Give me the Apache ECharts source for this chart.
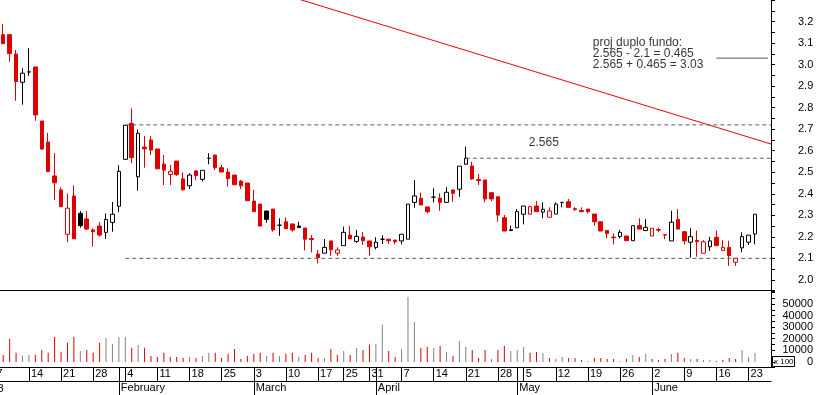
<!DOCTYPE html>
<html><head><meta charset="utf-8">
<script src="https://cdn.jsdelivr.net/npm/echarts@6/dist/echarts.min.js"></script>
<style>html,body{margin:0;padding:0;background:#fff}#c{width:817px;height:395px}</style>
</head><body><div id="c"></div>
<script>
// ---- trading days (2008); Jan 7 lies just off the left edge ----
const janDays = [7,8,9,10,11,14,15,16,17,18,21,22,23,24,25,28,29,30,31];
const febDays = [1,4,5,6,7,8,11,12,13,14,15,18,19,20,21,22,25,26,27,28,29];
const marDays = [3,4,5,6,7,10,11,12,13,14,17,18,19,20,25,26,27,28,31];
const aprDays = [1,2,3,4,7,8,9,10,11,14,15,16,17,18,21,22,23,24,25,28,29,30];
const mayDays = [2,5,6,7,8,9,12,13,14,15,16,19,20,21,22,23,26,27,28,29,30];
const junDays = [2,3,4,5,6,9,10,11,12,13,16,17,18,19,20,23,24];
const monthNames = ['January','February','March','April','May','June'];
const hiddenLeadingDays = 1;
const padCategories = 2;

// ---- prices from Jan 8 to Jun 24 ----
const opens = [3.139,3.139,3.049,2.918,2.966,2.989,2.738,2.640,2.483,2.418,
2.212,2.390,2.309,2.283,2.232,2.250,2.221,2.267,2.342,2.560,
2.727,2.479,2.617,2.650,2.608,2.538,2.490,2.552,2.469,2.437,
2.506,2.467,2.565,2.580,2.521,2.501,2.487,2.459,2.450,2.366,
2.352,2.320,2.329,2.254,2.270,2.260,2.250,2.241,2.192,2.120,
2.124,2.181,2.124,2.159,2.208,2.179,2.199,2.181,2.151,2.189,
2.189,2.185,2.181,2.189,2.360,2.379,2.339,2.384,2.379,2.360,
2.418,2.421,2.537,2.529,2.466,2.464,2.405,2.386,2.289,2.233,
2.242,2.305,2.305,2.343,2.315,2.291,2.306,2.360,2.363,2.331,
2.322,2.329,2.306,2.270,2.229,2.199,2.201,2.204,2.182,2.252,
2.229,2.204,2.234,2.210,2.181,2.281,2.224,2.175,2.183,2.124,
2.154,2.198,2.137,2.151,2.082,2.149,2.175,2.213];
const closes = [3.097,3.051,2.921,2.960,2.966,2.766,2.608,2.503,2.451,2.340,
2.333,2.191,2.252,2.236,2.224,2.208,2.281,2.305,2.504,2.718,
2.568,2.681,2.609,2.603,2.516,2.510,2.504,2.489,2.418,2.487,
2.484,2.509,2.565,2.521,2.501,2.470,2.442,2.437,2.368,2.317,
2.250,2.281,2.232,2.254,2.238,2.232,2.243,2.189,2.187,2.103,
2.151,2.140,2.139,2.221,2.191,2.202,2.182,2.154,2.175,2.189,
2.182,2.177,2.212,2.352,2.390,2.348,2.317,2.384,2.360,2.407,
2.402,2.528,2.565,2.469,2.461,2.376,2.376,2.301,2.227,2.229,
2.317,2.343,2.340,2.317,2.328,2.320,2.352,2.360,2.337,2.327,
2.317,2.317,2.270,2.227,2.216,2.196,2.221,2.182,2.252,2.236,
2.244,2.240,2.231,2.208,2.268,2.236,2.181,2.201,2.177,2.177,
2.181,2.159,2.151,2.113,2.100,2.201,2.208,2.305];
const lows = [3.097,3.013,2.832,2.814,2.948,2.739,2.603,2.503,2.371,2.340,
2.175,2.191,2.242,2.232,2.154,2.201,2.191,2.224,2.314,2.560,
2.542,2.414,2.521,2.580,2.516,2.441,2.441,2.483,2.418,2.422,
2.463,2.458,2.537,2.510,2.501,2.433,2.442,2.422,2.368,2.317,
2.250,2.266,2.224,2.205,2.238,2.224,2.243,2.136,2.128,2.077,
2.124,2.112,2.112,2.159,2.191,2.171,2.162,2.112,2.142,2.167,
2.167,2.165,2.165,2.189,2.335,2.348,2.309,2.360,2.321,2.360,
2.363,2.386,2.537,2.465,2.441,2.360,2.366,2.270,2.227,2.227,
2.242,2.258,2.305,2.317,2.286,2.291,2.306,2.337,2.337,2.320,
2.314,2.309,2.252,2.227,2.193,2.165,2.193,2.182,2.182,2.236,
2.229,2.204,2.221,2.189,2.181,2.236,2.165,2.103,2.108,2.124,
2.135,2.159,2.137,2.065,2.065,2.128,2.162,2.165];
const highs = [3.189,3.139,3.068,2.983,3.076,2.989,2.738,2.682,2.589,2.430,
2.402,2.439,2.320,2.320,2.240,2.269,2.309,2.362,2.532,2.718,
2.797,2.699,2.668,2.668,2.608,2.580,2.534,2.552,2.500,2.495,
2.510,2.509,2.588,2.580,2.534,2.518,2.487,2.464,2.450,2.418,
2.352,2.320,2.329,2.286,2.291,2.260,2.270,2.241,2.208,2.139,
2.190,2.181,2.151,2.247,2.250,2.232,2.222,2.181,2.198,2.208,
2.189,2.185,2.212,2.352,2.464,2.405,2.339,2.425,2.402,2.430,
2.418,2.528,2.619,2.549,2.492,2.464,2.405,2.386,2.301,2.252,
2.329,2.343,2.343,2.366,2.360,2.337,2.360,2.360,2.376,2.337,
2.337,2.329,2.306,2.270,2.232,2.216,2.232,2.204,2.252,2.286,
2.283,2.240,2.242,2.210,2.321,2.329,2.224,2.240,2.229,2.185,
2.200,2.229,2.185,2.182,2.100,2.221,2.208,2.305];
const closeBeforeStart = 3.15;

// ---- volume (units of 100) ----
const volumes = [6000,19800,7950,5360,5960,5960,10280,7950,21500,8810,
16600,21800,9410,10280,7950,16600,20640,15460,21500,21500,
12270,14590,12270,5100,4230,7950,4230,4230,3370,4230,
3370,5100,7950,7950,3370,7080,11140,2500,5100,7080,
7950,5100,7950,5100,7080,7950,4230,5960,7950,3370,
3370,11140,5960,9410,5960,12000,10280,14850,15720,32120,
9410,4230,11140,56000,34460,12000,12870,12000,13730,8550,
5100,18050,12870,10280,3370,10280,2500,10280,13730,9410,
10280,12870,7950,8550,7660,3370,2500,4230,3370,3370,
1640,780,3370,3370,2500,2500,780,2500,5960,4230,
6800,2500,1640,2500,6800,7950,3370,2500,2500,1640,
1640,780,1640,3370,2500,10280,4230,7660];

// ---- annotations (x = category index from Jan 8, y = price) ----
const resistance = 2.72, neckline = 2.565, support = 2.1, target = 3.03;
const levelStart = 19, neckStart = 72, targetStart = 111, targetEnd = 119;
const trendline = [[39, 3.368], [119.5, 2.631]];
const neckLabel = {pos: [81.8, 2.637], text: '2.565'};
const projLabel = {pos: [91.75, 3.126], text: 'proj duplo fundo:\n2.565 - 2.1 = 0.465\n2.565 + 0.465 = 3.03'};

// ---- build categories ----
const allMonths = [janDays, febDays, marDays, aprDays, mayDays, junDays];
const fullDay = [], fullMonth = [];
allMonths.forEach((arr, m) => arr.forEach(d => { fullDay.push(d); fullMonth.push(m); }));
const fullWeekStart = [], fullMonthStart = [];
for (let i = 0; i < fullDay.length; i++) {
  const t = Date.UTC(2008, fullMonth[i], fullDay[i]);
  if (i === 0) { fullWeekStart.push(true); fullMonthStart.push(false); continue; }
  const tp = Date.UTC(2008, fullMonth[i-1], fullDay[i-1]);
  const wd = new Date(t).getUTCDay(), wdp = new Date(tp).getUTCDay();
  fullWeekStart.push(wd < wdp || (t - tp) >= 7*86400000);
  fullMonthStart.push(fullMonth[i] !== fullMonth[i-1]);
}
const cats = [], dayNum = [], monthIdx = [], isWeekStart = [], isMonthStart = [];
for (let i = hiddenLeadingDays; i < fullDay.length; i++) {
  cats.push('2008-' + String(fullMonth[i]+1).padStart(2,'0') + '-' + String(fullDay[i]).padStart(2,'0'));
  dayNum.push(fullDay[i]); monthIdx.push(fullMonth[i]);
  isWeekStart.push(fullWeekStart[i]); isMonthStart.push(fullMonthStart[i]);
}
for (let p = 0; p < padCategories; p++) {
  cats.push('pad' + p); dayNum.push(null); monthIdx.push(null); isWeekStart.push(false); isMonthStart.push(false);
}
const N = cats.length;

const RED = '#dd0000', BLACK = '#000000', GRAY = '#808080', DASH = '#606060';
const candleData = [], volData = [];
for (let k = 0; k < opens.length; k++) {
  const o = opens[k], c = closes[k];
  const prev = k ? closes[k-1] : closeBeforeStart;
  const col = c <= prev ? RED : BLACK;
  const fill = c > o ? '#ffffff' : col;
  candleData.push({value: [o, c, lows[k], highs[k]],
    itemStyle: {color: fill, color0: fill, borderColor: col, borderColor0: col, borderColorDoji: col}});
  volData.push({value: volumes[k], itemStyle: {color: c < prev ? RED : GRAY}});
}

const FONT = 'Liberation Sans';
const gridW = 771;

const chart = echarts.init(document.getElementById('c'), null, {renderer: 'canvas'});
chart.setOption({
  animation: false,
  backgroundColor: '#ffffff',
  textStyle: {fontFamily: FONT},
  grid: [
    {left: 0, width: gridW, top: 0, height: 290.66},
    {left: 0, width: gridW, top: 291, height: 76.7}
  ],
  xAxis: [
    {type: 'category', gridIndex: 0, position: 'bottom', data: cats, boundaryGap: true,
     axisLine: {show: true, onZero: false, lineStyle: {color: '#000', width: 1}}, axisTick: {show: false}, axisLabel: {show: false}, splitLine: {show: false}},
    {type: 'value', gridIndex: 0, position: 'bottom', min: -0.5, max: N - 0.5, show: false, axisLine: {onZero: false}},
    {type: 'category', gridIndex: 1, position: 'bottom', data: cats, boundaryGap: true,
     axisLine: {show: true, onZero: false, lineStyle: {color: '#000', width: 1}},
     axisTick: {show: true, alignWithLabel: true, length: 14, lineStyle: {color: '#000'},
       interval: (i) => isWeekStart[i] || isMonthStart[i]},
     axisLabel: {show: true, interval: (i) => isWeekStart[i], formatter: (v, i) => String(dayNum[i]),
       align: 'left', verticalAlign: 'top', margin: 1, padding: [0,0,0,2], color: '#000', fontSize: 11, fontFamily: FONT}},
    {type: 'category', gridIndex: 1, position: 'bottom', data: cats, boundaryGap: true,
     axisLine: {show: false, onZero: false},
     axisTick: {show: true, alignWithLabel: true, length: 28, lineStyle: {color: '#000'},
       interval: (i) => isMonthStart[i]},
     axisLabel: {show: true, interval: (i) => isMonthStart[i], formatter: (v, i) => monthIdx[i] == null ? '' : monthNames[monthIdx[i]],
       align: 'left', verticalAlign: 'top', margin: 15, padding: [0,0,0,2], color: '#000', fontSize: 11, fontFamily: FONT}},
    {type: 'category', gridIndex: 1, position: 'bottom', data: cats, offset: 13.3,
     axisLine: {show: true, onZero: false, lineStyle: {color: '#000'}}, axisTick: {show: false}, axisLabel: {show: false}}
  ],
  yAxis: [
    {type: 'value', gridIndex: 0, position: 'right', min: 1.95, max: 3.3, interval: 0.05,
     axisLine: {show: true, onZero: false, lineStyle: {color: '#000'}},
     axisTick: {show: true, inside: false, length: 4, lineStyle: {color: '#000'}},
     splitLine: {show: false},
     axisLabel: {margin: 27, align: 'left', color: '#000', fontSize: 11, fontFamily: FONT,
       formatter: (v) => { const r = Math.round(v * 100); return (r % 10 === 0 && r >= 200 && r <= 320) ? (r/100).toFixed(1) : ''; }}},
    {type: 'value', gridIndex: 1, position: 'right', min: -5000, max: 61200, interval: 5000,
     axisLine: {show: true, onZero: false, lineStyle: {color: '#000'}},
     axisTick: {show: true, length: 4, lineStyle: {color: '#000'}},
     splitLine: {show: false},
     axisLabel: {margin: 42, align: 'right', color: '#000', fontSize: 11, fontFamily: FONT,
       formatter: (v) => { const r = Math.round(v); return (r % 10000 === 0 && r >= 0 && r <= 50000) ? String(r) : ''; }}}
  ],
  series: [
    {type: 'candlestick', name: 'price', xAxisIndex: 0, yAxisIndex: 0, data: candleData, barWidth: 4,
     itemStyle: {borderWidth: 1}, clip: true},
    {type: 'bar', name: 'volume', xAxisIndex: 2, yAxisIndex: 1, data: volData, barWidth: 1},
    {type: 'line', name: 'trend', xAxisIndex: 1, yAxisIndex: 0, data: trendline, symbol: 'none',
     lineStyle: {color: '#ee0000', width: 1}, clip: true},
    {type: 'line', name: 'resistance', xAxisIndex: 1, yAxisIndex: 0, data: [[levelStart, resistance], [N - 0.5, resistance]], symbol: 'none',
     lineStyle: {color: DASH, width: 1, type: [4, 3]}},
    {type: 'line', name: 'support', xAxisIndex: 1, yAxisIndex: 0, data: [[levelStart, support], [N - 0.5, support]], symbol: 'none',
     lineStyle: {color: DASH, width: 1, type: [4, 3]}},
    {type: 'line', name: 'neckline', xAxisIndex: 1, yAxisIndex: 0, data: [[neckStart, neckline], [N - 0.5, neckline]], symbol: 'none',
     lineStyle: {color: DASH, width: 1, type: [4, 3]}},
    {type: 'line', name: 'target', xAxisIndex: 1, yAxisIndex: 0, data: [[targetStart, target], [targetEnd, target]], symbol: 'none',
     lineStyle: {color: '#555555', width: 1}},
    {type: 'scatter', name: 'notes', xAxisIndex: 1, yAxisIndex: 0, symbolSize: 0, silent: true,
     data: [{value: neckLabel.pos, name: neckLabel.text, label: {verticalAlign: 'middle'}},
            {value: projLabel.pos, name: projLabel.text, label: {verticalAlign: 'top'}}],
     label: {show: true, position: [0, 0], align: 'left', formatter: (p) => p.name,
       color: '#000', fontSize: 12, lineHeight: 11, fontFamily: FONT}}
  ],
  graphic: [
    {type: 'rect', shape: {x: 772.5, y: 356.5, width: 22, height: 10}, style: {fill: '#fff', stroke: '#000', lineWidth: 1}},
    {type: 'text', x: 774, y: 361.5, style: {text: 'x 100', font: '8px Liberation Sans', fill: '#000', textVerticalAlign: 'middle'}},
    {type: 'text', x: -3.5, y: 368.5, style: {text: String(janDays[0]), font: '11px Liberation Sans', fill: '#000', textVerticalAlign: 'top'}},
    {type: 'text', x: 3.5, y: 383, style: {text: '2008', font: '11px Liberation Sans', fill: '#000', textAlign: 'right', textVerticalAlign: 'top'}}
  ]
});
</script></body></html>
